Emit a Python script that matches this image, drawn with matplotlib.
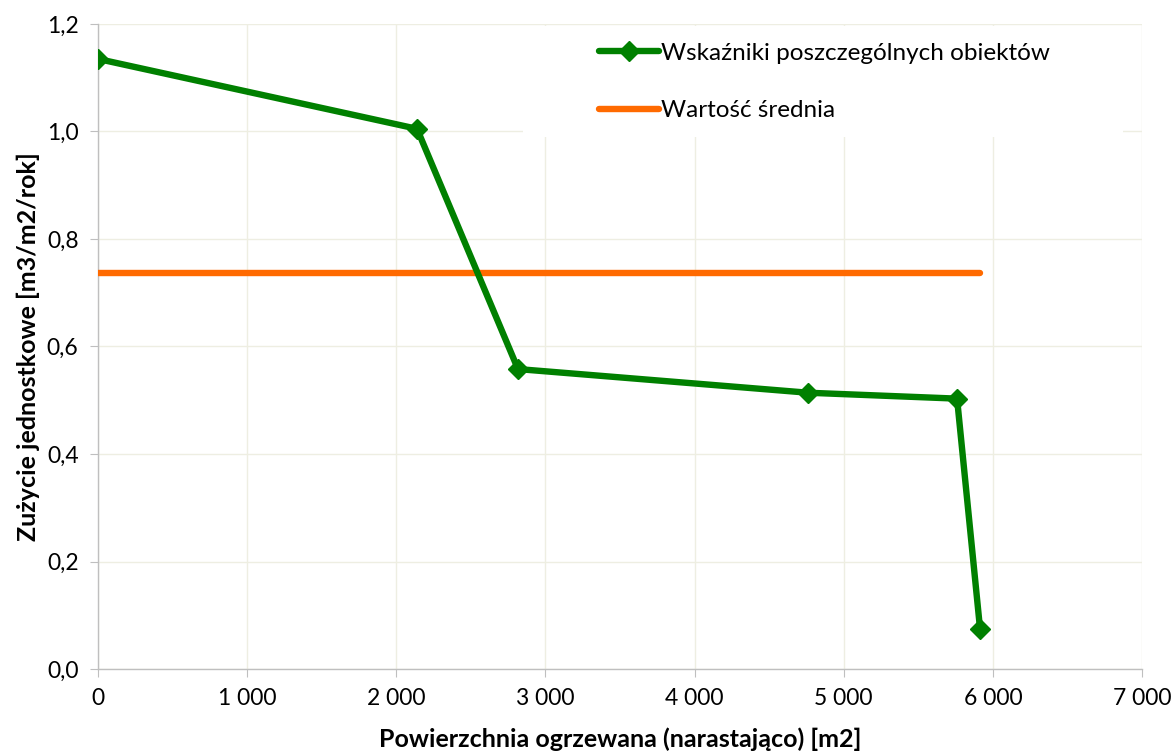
import matplotlib
matplotlib.use('Agg')
import matplotlib.pyplot as plt
from matplotlib.patches import Rectangle
from matplotlib.ticker import FuncFormatter, MultipleLocator

plt.rcParams['font.family'] = ['Lato', 'DejaVu Sans']

# cumulative heated area [m2] and unit consumption [m3/m2/year]
area = [0, 2139, 2816, 4761, 5760, 5914]
consumption = [1.135, 1.005, 0.558, 0.514, 0.503, 0.075]
mean_value = 0.737

series_label = 'Wskaźniki poszczególnych obiektów'
mean_label = 'Wartość średnia'
x_label = 'Powierzchnia ogrzewana (narastająco) [m2]'
y_label = 'Zużycie jednostkowe [m3/m2/rok]'

green = '#008000'
orange = '#FF6A00'
grid_col = '#EEEEE2'
axis_col = '#BFBFBF'

fig = plt.figure(figsize=(11.74, 7.56), dpi=100)
ax = fig.add_axes([98 / 1174, 1 - 669 / 756, (1142 - 98) / 1174, (669 - 24) / 756])

ax.plot(area, consumption, color=green, lw=4.6, marker='D', ms=10.5,
        solid_capstyle='round', solid_joinstyle='round',
        label=series_label, zorder=4)
ax.plot([area[0], area[-1]], [mean_value, mean_value], color=orange, lw=4.6,
        solid_capstyle='round', label=mean_label, zorder=3)

ax.set_xlim(0, 7000)
ax.set_ylim(0, 1.2)
ax.xaxis.set_major_locator(MultipleLocator(1000))
ax.yaxis.set_major_locator(MultipleLocator(0.2))
ax.xaxis.set_major_formatter(FuncFormatter(lambda v, p: f'{v:,.0f}'.replace(',', ' ')))
ax.yaxis.set_major_formatter(FuncFormatter(lambda v, p: f'{v:.1f}'.replace('.', ',')))

ax.grid(True, color=grid_col, lw=1, zorder=0)
ax.set_axisbelow(True)
for s in ['top', 'right']:
    ax.spines[s].set_visible(False)
for s in ['left', 'bottom']:
    ax.spines[s].set_color(axis_col)
    ax.spines[s].set_linewidth(1)
ax.tick_params(axis='both', direction='out', length=6, color=axis_col,
               labelsize=16.5, pad=8)

ax.set_xlabel(x_label, fontsize=18, fontweight='bold', labelpad=13)
ax.set_ylabel(y_label, fontsize=18, fontweight='bold', labelpad=5)

# white block behind the legend hides the grid there
ax.add_patch(Rectangle((0.407, 0.825), 0.575, 0.172, transform=ax.transAxes,
                       facecolor='white', edgecolor='none', zorder=2))

leg = ax.legend(loc='center left', bbox_to_anchor=(0.48, 0.91), frameon=False,
                fontsize=17.5, handlelength=2.45, handletextpad=0.08,
                labelspacing=1.5, borderpad=0, borderaxespad=0)
leg.set_zorder(5)

fig.savefig('out.png', dpi=100, facecolor='white')
